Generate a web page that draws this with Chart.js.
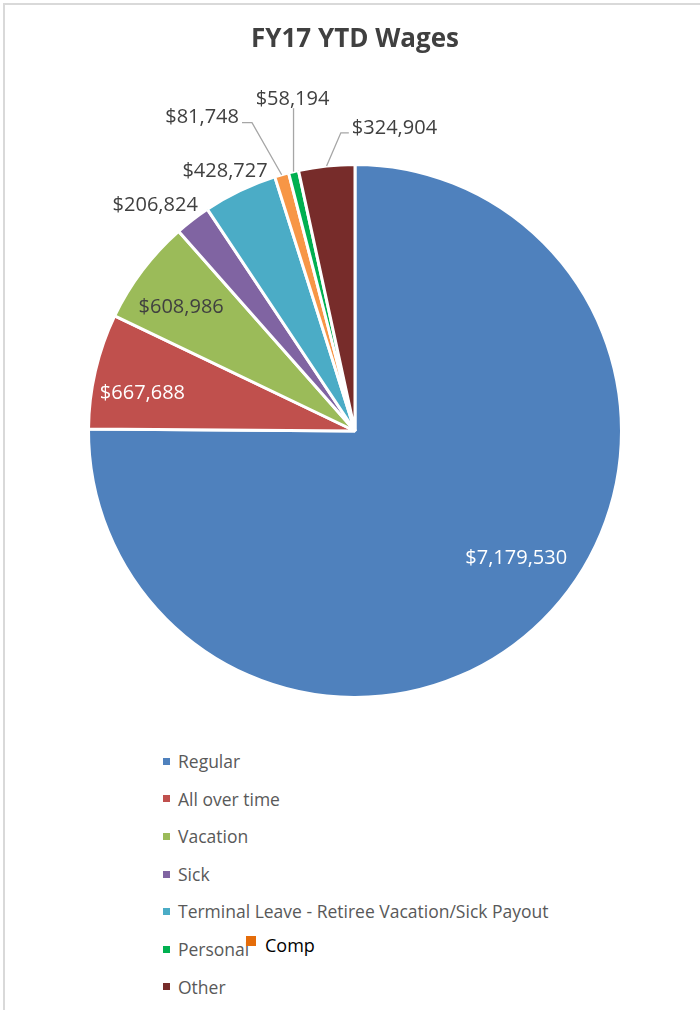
<!DOCTYPE html>
<html lang="en">
<head>
<meta charset="utf-8">
<script src="https://cdn.jsdelivr.net/npm/chart.js@4.4.1/dist/chart.umd.min.js"></script>
<style>
  html, body { margin: 0; padding: 0; background: #fff; }
  #frame {
    position: absolute; left: 3px; top: 3px; width: 720px; height: 1030px;
    border-top: 2px solid #d9d9d9; border-left: 2px solid #d9d9d9;
  }
  #wrap { position: absolute; left: 0; top: 0; width: 700px; height: 720px; }
  #legend { position: absolute; left: 163px; top: 743px; font-family: "Open Sans", sans-serif;
            font-size: 17.5px; color: #595959; }
  .row { height: 37.6px; line-height: 37.6px; white-space: nowrap; position: relative; }
  .box { display: inline-block; width: 7px; height: 7px; margin-right: 8px; vertical-align: middle;
         position: relative; top: -2px; }
  #comp { position: absolute; left: 246px; top: 933px; font-family: "Open Sans", sans-serif;
          font-size: 18px; color: #000; white-space: nowrap; }
  #comp .box { width: 10px; height: 10px; margin-right: 9px; top: -6px; }
</style>
</head>
<body>
<div id="frame"></div>
<div id="wrap"><canvas id="myChart" width="700" height="720"></canvas></div>
<div id="legend"></div>
<div id="comp"></div>
<script>

const categories = ['Regular', 'All over time', 'Vacation', 'Sick',
  'Terminal Leave - Retiree Vacation/Sick Payout', 'Comp', 'Personal', 'Other'];
const wages = [7179530, 667688, 608986, 206824, 428727, 81748, 58194, 324904];
const sliceColors = ['#4f81bd', '#c0504d', '#9bbb59', '#8064a2', '#4bacc6', '#f79646', '#00b050', '#772c2a'];
const legendOrder = ['Regular', 'All over time', 'Vacation', 'Sick',
  'Terminal Leave - Retiree Vacation/Sick Payout', 'Personal', 'Other'];

// where each value label goes, relative to its slice
const labelSpots = [
  {kind: 'in', r: 0.77, turn: -7, color: '#ffffff'},
  {kind: 'in', r: 0.81, turn: -3, color: '#ffffff'},
  {kind: 'in', r: 0.80, turn: -1.7, color: '#404040'},
  {kind: 'in', r: 1.13, turn: -4, color: '#404040'},
  {kind: 'in', r: 1.09, turn: -1, color: '#404040'},
  {kind: 'left', r: 1.22, turn: -2.5, color: '#404040'},
  {kind: 'up', r: 1.245, turn: 0, color: '#404040'},
  {kind: 'right', r: 1.12, turn: 3.4, color: '#404040'}
];

function money(v) {
  return '$' + v.toLocaleString('en-US');
}

const valueLabels = {
  id: 'valueLabels',
  afterDatasetsDraw(chart) {
    const ctx = chart.ctx;
    const arcs = chart.getDatasetMeta(0).data;
    ctx.save();
    ctx.font = '20px "Open Sans"';
    arcs.forEach((arc, i) => {
      const spot = labelSpots[i];
      const mid = (arc.startAngle + arc.endAngle) / 2;
      const a = mid + spot.turn * Math.PI / 180;
      const x = arc.x + Math.cos(a) * arc.outerRadius * spot.r;
      const y = arc.y + Math.sin(a) * arc.outerRadius * spot.r;
      const text = money(wages[i]);
      ctx.fillStyle = spot.color;
      ctx.textBaseline = 'middle';
      if (spot.kind === 'in') {
        ctx.textAlign = 'center';
        ctx.fillText(text, x, y);
        return;
      }
      // leader line from slice edge
      const ex = arc.x + Math.cos(mid) * arc.outerRadius;
      const ey = arc.y + Math.sin(mid) * arc.outerRadius;
      ctx.strokeStyle = '#a6a6a6';
      ctx.lineWidth = 1.3;
      ctx.beginPath();
      ctx.moveTo(ex, ey);
      if (spot.kind === 'up') {
        ctx.lineTo(ex, y);
        ctx.stroke();
        ctx.textAlign = 'center';
        ctx.fillText(text, ex - 1, y - 9);
      } else if (spot.kind === 'left') {
        ctx.lineTo(x, y);
        ctx.lineTo(x - 10, y);
        ctx.stroke();
        ctx.textAlign = 'right';
        ctx.fillText(text, x - 13, y - 5);
      } else {
        ctx.lineTo(x, y);
        ctx.lineTo(x + 8, y);
        ctx.stroke();
        ctx.textAlign = 'left';
        ctx.fillText(text, x + 11, y - 5);
      }
    });
    ctx.restore();
  }
};

const ctx = document.getElementById('myChart').getContext('2d');

const myChart = new Chart(ctx, {
  type: 'pie',
  data: {
    labels: categories,
    datasets: [{
      data: wages,
      backgroundColor: sliceColors,
      borderColor: '#ffffff',
      borderWidth: 3
    }]
  },
  options: {
    responsive: false,
    animation: false,
    layout: { padding: { left: 87, right: 77, top: 0, bottom: 21 } },
    plugins: {
      legend: { display: false },
      tooltip: { enabled: false },
      title: {
        display: true,
        text: 'FY17 YTD Wages',
        color: '#404040',
        font: { family: 'Open Sans', size: 26, weight: 'bold' },
        padding: { top: 24, bottom: 107.8 }
      }
    }
  },
  plugins: [valueLabels]
});

// legend below the pie
const legendBox = document.getElementById('legend');
legendOrder.forEach(name => {
  const i = categories.indexOf(name);
  const row = document.createElement('div');
  row.className = 'row';
  row.innerHTML = '<span class="box" style="background:' + sliceColors[i] + '"></span>' + name;
  legendBox.appendChild(row);
});
document.getElementById('comp').innerHTML =
  '<span class="box" style="background:#e46c0a"></span>' + categories[5];

</script>
</body>
</html>
